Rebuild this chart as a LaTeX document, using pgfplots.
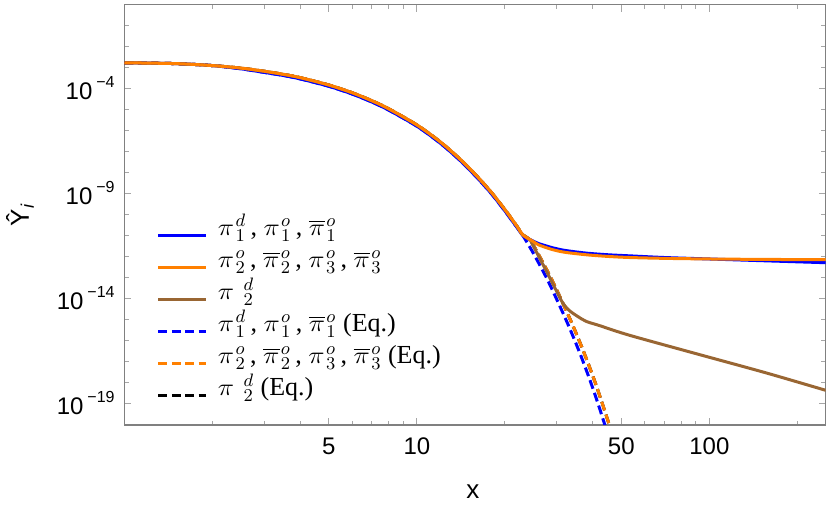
\documentclass[border=0pt]{standalone}
\usepackage{fontspec}
\setmainfont{Liberation Serif}
\setsansfont{Liberation Sans}
\usepackage{pgfplots}
\pgfplotsset{compat=1.18}
\definecolor{mblue}{RGB}{0,0,255}
\definecolor{morange}{RGB}{255,128,0}
\definecolor{mbrown}{RGB}{153,102,51}
\newcommand{\tl}[1]{10\hspace{2pt}\raisebox{6pt}{\fontsize{8}{9}\selectfont −#1}}
\newcommand{\wpi}{\mbox{\scalebox{1.15}[1]{$\pi$}}}
\newcommand{\pp}{{\wpi\mkern1mu}}
\newcommand{\pb}{{\overline{\wpi}\mkern1mu}}
\newcommand{\pw}{{\wpi\mkern7mu}}
\begin{document}
\begin{tikzpicture}
\begin{axis}[name=ax,
  scale only axis, width=350.6pt, height=210.15pt,
  xmode=log, ymode=log,
  xmin=1, xmax=250, ymin=1e-20, ymax=1,
  xtick={5,10,50,100}, xticklabels={5,10,50,100},
  minor xtick={2,3,4,6,7,8,9,20,30,40,60,70,80,90,200},
  ytick={1e-19,1e-14,1e-9,1e-4}, yticklabels={\tl{19},\tl{14},\tl{9},\tl{4}},
  minor ytick={1e-1,1e-2,1e-3,1e-5,1e-6,1e-7,1e-8,1e-10,1e-11,1e-12,1e-13,1e-15,1e-16,1e-17,1e-18},
  tick align=inside, major tick length=3.5pt, minor tick length=2.2pt,
  tick style={black!35, line width=0.5pt},
  axis line style={black!50, line width=0.6pt},
  ticklabel style={font=\sffamily\fontsize{12}{14}\selectfont},
  xticklabel style={anchor=base, yshift=-15pt},
  yticklabel style={anchor=base east, inner xsep=0pt, xshift=-4.75pt, yshift=-5.3pt},
  xlabel={x}, ylabel={Ŷ\textsubscript{\textit{i}}},
  label style={font=\sffamily\fontsize{13}{15}\selectfont},
  xlabel style={at={(axis description cs:0.497,-0.176)}, anchor=base},
  ylabel style={at={(axis description cs:-0.149,0.5)}, anchor=center},
  legend cell align=left,
  legend image code/.code={\draw[#1] (0pt,-2pt) -- (24pt,-2pt);},
  legend style={at={(axis description cs:0.0463,0.4996)}, anchor=north west,
    draw=none, fill=none, inner sep=0pt, outer sep=0pt, row sep=0pt,
    nodes={font=\fontsize{13}{15}\selectfont, inner xsep=5pt, inner ysep=0pt,
      text height=10pt, text depth=6pt}},
  solid/.style={line width=1.5pt, smooth, tension=0.5},
  eq/.style={line width=1.5pt, smooth, tension=0.5, dash pattern=on 4.5pt off 2.2pt},
]
% equilibrium curves (drawn first, mostly hidden under the solid ones)
\addplot[forget plot, mblue, eq] coordinates {
(1,1.72e-3)(1.5,1.57e-3)(2,1.265e-3)(2.5,8.91e-4)(3,6.03e-4)(3.5,4.27e-4)(4,2.92e-4)
(5,1.31e-4)(6,5.66e-5)(7,2.37e-5)(8,9.75e-6)(10,1.65e-6)(12,2.62e-7)(14,4.04e-8)
(16,6.24e-9)(18,9.95e-10)(20,1.53e-10)(21,6.05e-11)(22,2.51e-11)(23,1.07e-11)
(25,1.51e-12)(27.7,1.05e-13)(30,1.02e-14)(33,5.37e-16)(36,2.82e-17)(39,1.45e-18)
(42,7.08e-20)(45,3.47e-21)};
\addplot[forget plot, black, eq] coordinates {
(1,1.72e-3)(1.5,1.57e-3)(2,1.265e-3)(2.5,9.60e-4)(3,6.83e-4)(3.5,4.83e-4)(4,3.35e-4)
(5,1.505e-4)(6,6.50e-5)(7,2.72e-5)(8,1.12e-5)(10,1.89e-6)(12,3.01e-7)(14,4.63e-8)
(16,7.16e-9)(18,1.14e-9)(20,1.76e-10)(21,6.95e-11)(22,2.81e-11)(23,1.13e-11)
(24.3,6.76e-12)(25.9,1.51e-12)(28.67,1.05e-13)(31.05,1.02e-14)(34.15,5.37e-16)
(37.26,2.82e-17)(40.37,1.45e-18)(43.47,7.08e-20)(46.6,3.47e-21)};
\addplot[forget plot, morange, eq] coordinates {
(1,1.72e-3)(1.5,1.57e-3)(2,1.265e-3)(2.5,9.60e-4)(3,6.83e-4)(3.5,4.83e-4)(4,3.35e-4)
(5,1.505e-4)(6,6.50e-5)(7,2.72e-5)(8,1.12e-5)(10,1.89e-6)(12,3.01e-7)(14,4.63e-8)
(16,7.16e-9)(18,1.14e-9)(20,1.76e-10)(21,6.95e-11)(22,2.81e-11)(23,1.13e-11)
(24.3,6.76e-12)(25.9,1.51e-12)(28.67,1.05e-13)(31.05,1.02e-14)(34.15,5.37e-16)
(37.26,2.82e-17)(40.37,1.45e-18)(43.47,7.08e-20)(46.6,3.47e-21)};
% full solutions
\addplot[forget plot, mblue, solid] coordinates {
(1,1.72e-3)(1.5,1.57e-3)(2,1.265e-3)(2.5,8.91e-4)(3,6.03e-4)(3.5,4.27e-4)(4,2.92e-4)
(5,1.31e-4)(6,5.66e-5)(7,2.37e-5)(8,9.75e-6)(10,1.65e-6)(12,2.62e-7)(14,4.04e-8)
(16,6.24e-9)(18,9.95e-10)(20,1.53e-10)(21,6.05e-11)(22,2.51e-11)(23,1.07e-11)
(24.3,6.76e-12)(24.93,5.75e-12)(26,4.37e-12)(27.7,3.31e-12)(29.17,2.69e-12)
(32,2.04e-12)(37.94,1.51e-12)(45,1.26e-12)(53.33,1.12e-12)(70,9.33e-13)(100,7.94e-13)
(150,6.61e-13)(250,5.28e-13)};
\addplot[forget plot, mbrown, solid] coordinates {
(1,1.72e-3)(1.5,1.57e-3)(2,1.265e-3)(2.5,9.60e-4)(3,6.83e-4)(3.5,4.83e-4)(4,3.35e-4)
(5,1.505e-4)(6,6.50e-5)(7,2.72e-5)(8,1.12e-5)(10,1.89e-6)(12,3.01e-7)(14,4.63e-8)
(16,7.16e-9)(18,1.14e-9)(20,1.76e-10)(21,6.95e-11)(22,2.81e-11)(23,1.13e-11)
(24.3,6.76e-12)(24.48,5.89e-12)(25.5,1.95e-12)(27.77,2.0e-13)(29.5,3.80e-14)
(31.49,6.61e-15)(33.27,2.75e-15)(35.43,1.48e-15)(37.94,8.51e-16)(42.12,5.37e-16)
(53.33,1.86e-16)(92.5,2.24e-17)(156.3,3.02e-18)(250,4.47e-19)};
\addplot[forget plot, morange, solid] coordinates {
(1,1.72e-3)(1.5,1.57e-3)(2,1.265e-3)(2.5,9.60e-4)(3,6.83e-4)(3.5,4.83e-4)(4,3.35e-4)
(5,1.505e-4)(6,6.50e-5)(7,2.72e-5)(8,1.12e-5)(10,1.89e-6)(12,3.01e-7)(14,4.63e-8)
(16,7.16e-9)(18,1.14e-9)(20,1.76e-10)(21,6.95e-11)(22,2.81e-11)(23,1.13e-11)
(24.3,6.76e-12)(24.93,5.50e-12)(26,3.80e-12)(27.7,2.75e-12)(29.17,2.19e-12)
(32,1.66e-12)(37.94,1.26e-12)(45,1.05e-12)(53.33,9.33e-13)(70,8.51e-13)(100,7.94e-13)
(150,7.59e-13)(250,7.33e-13)};
% legend
\addlegendimage{mblue, line width=1.5pt}
\addlegendentry{$\pp^{d}_{1}$\,, $\pp^{o}_{1}$\,, $\pb^{o}_{1}$}
\addlegendimage{morange, line width=1.5pt}
\addlegendentry{$\pp^{o}_{2}$\,, $\pb^{o}_{2}$\,, $\pp^{o}_{3}$\,, $\pb^{o}_{3}$}
\addlegendimage{mbrown, line width=1.5pt}
\addlegendentry{$\pw^{d}_{2}$}
\addlegendimage{mblue, line width=1.5pt, dash pattern=on 4.5pt off 2.2pt}
\addlegendentry{$\pp^{d}_{1}$\,, $\pp^{o}_{1}$\,, $\pb^{o}_{1}$ (Eq.)}
\addlegendimage{morange, line width=1.5pt, dash pattern=on 4.5pt off 2.2pt}
\addlegendentry{$\pp^{o}_{2}$\,, $\pb^{o}_{2}$\,, $\pp^{o}_{3}$\,, $\pb^{o}_{3}$ (Eq.)}
\addlegendimage{black, line width=1.5pt, dash pattern=on 4.5pt off 2.2pt}
\addlegendentry{$\pw^{d}_{2}$ (Eq.)}
\end{axis}
\pgfresetboundingbox
\path ([xshift=-62.25pt,yshift=-40pt]ax.south west) rectangle ([xshift=2.15pt,yshift=2.35pt]ax.north east);
\end{tikzpicture}
\end{document}
